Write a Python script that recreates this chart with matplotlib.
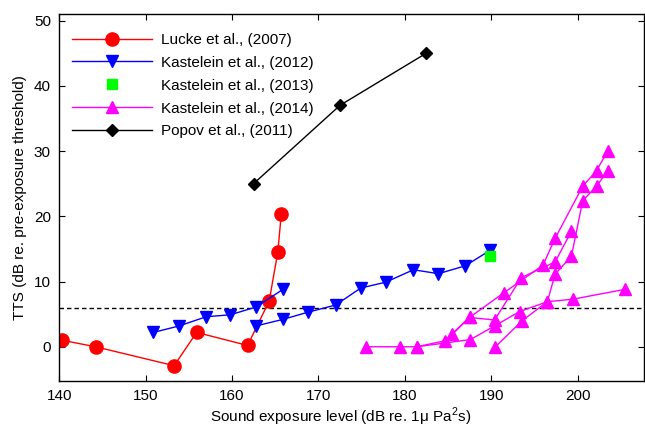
import matplotlib
matplotlib.use("Agg")
import matplotlib.pyplot as plt

# Lucke et al. (2007)
lucke_x = [140.3, 144.2, 153.3, 155.9, 161.8, 164.3, 165.3, 165.7]
lucke_y = [1.0, 0.0, -2.9, 2.2, 0.2, 7.0, 14.5, 20.3]

# Kastelein et al. (2012), two runs
k12a_x = [150.9, 153.9, 157.0, 159.8, 162.8, 165.9]
k12a_y = [2.2, 3.2, 4.6, 4.9, 6.1, 8.8]
k12b_x = [162.8, 165.9, 168.8, 172.0, 174.9, 177.8, 181.0, 183.9, 187.0, 189.9]
k12b_y = [3.2, 4.2, 5.3, 6.4, 9.0, 9.9, 11.8, 11.2, 12.4, 14.8]

# Kastelein et al. (2013)
k13_x = [189.9]
k13_y = [13.9]

# Kastelein et al. (2014), several curves
k14a_x = [175.5, 179.4, 181.4, 187.6, 190.4, 193.3, 196.5, 199.5, 205.5]
k14a_y = [0.0, 0.0, 0.0, 1.1, 3.2, 5.4, 6.9, 7.3, 8.8]
k14b_x = [181.4, 184.6, 187.5, 191.5, 196.0, 197.4, 200.6, 202.2, 203.5]
k14b_y = [0.0, 0.9, 4.5, 8.3, 12.5, 16.6, 24.6, 27.0, 30.0]
k14c_x = [190.5, 193.6, 196.5, 197.4, 199.3, 200.6, 202.2, 203.5]
k14c_y = [0.0, 4.0, 6.9, 11.1, 13.9, 22.4, 24.6, 27.0]
k14d_x = [185.5, 187.5, 190.4, 193.5, 197.4, 199.3]
k14d_y = [1.9, 4.5, 4.1, 10.6, 13.0, 17.7]

# Popov et al. (2011)
popov_x = [162.5, 172.5, 182.5]
popov_y = [25.0, 37.0, 45.0]

TTS_ONSET = 6

plt.rcParams["font.family"] = ["Liberation Sans", "DejaVu Sans"]
plt.rcParams["mathtext.fontset"] = "custom"
plt.rcParams["mathtext.rm"] = "Liberation Sans"

fig = plt.figure(figsize=(6.45, 4.29), dpi=100)
ax = fig.add_axes([0.0919, 0.1126, 0.9066, 0.8548])

lw = 1.0
ax.axhline(TTS_ONSET, color="black", lw=1.0, ls=(0, (3.2, 2.2)), zorder=1)

ax.plot(lucke_x, lucke_y, color="#FF0000", lw=lw, marker="o", ms=9.5,
        label="Lucke et al., (2007)")
ax.plot(k12a_x, k12a_y, color="#0000FF", lw=lw, marker="v", ms=8,
        label="Kastelein et al., (2012)")
ax.plot(k12b_x, k12b_y, color="#0000FF", lw=lw, marker="v", ms=8)
ax.plot(k13_x, k13_y, color="#00FF00", ls="none", marker="s", ms=7.5,
        label="Kastelein et al., (2013)")
first = True
for xs, ys in [(k14a_x, k14a_y), (k14b_x, k14b_y), (k14c_x, k14c_y), (k14d_x, k14d_y)]:
    ax.plot(xs, ys, color="#FF00FF", lw=lw, marker="^", ms=8,
            label="Kastelein et al., (2014)" if first else None)
    first = False
ax.plot(popov_x, popov_y, color="black", lw=lw, marker="D", ms=6,
        label="Popov et al., (2011)")

ax.set_xlim(140, 207.7)
ax.set_ylim(-5.2, 51)
ax.set_xticks([140, 150, 160, 170, 180, 190, 200])
ax.set_yticks([0, 10, 20, 30, 40, 50])
ax.tick_params(direction="in", top=True, right=True, length=4, width=0.8,
               labelsize=11, pad=6)
for s in ax.spines.values():
    s.set_linewidth(1.0)

ax.set_xlabel("Sound exposure level (dB re. 1μ Pa$^2$s)", fontsize=11, labelpad=2)
ax.xaxis.label.set_x(0.481)
ax.set_ylabel("TTS (dB re. pre-exposure threshold)", fontsize=11, labelpad=5)

ax.legend(loc="upper left", bbox_to_anchor=(0.012, 0.965), borderaxespad=0,
          frameon=False, fontsize=11, handlelength=5.2, handletextpad=0.6,
          labelspacing=0.58, numpoints=1)

fig.savefig("out.png", dpi=100, facecolor="white")
